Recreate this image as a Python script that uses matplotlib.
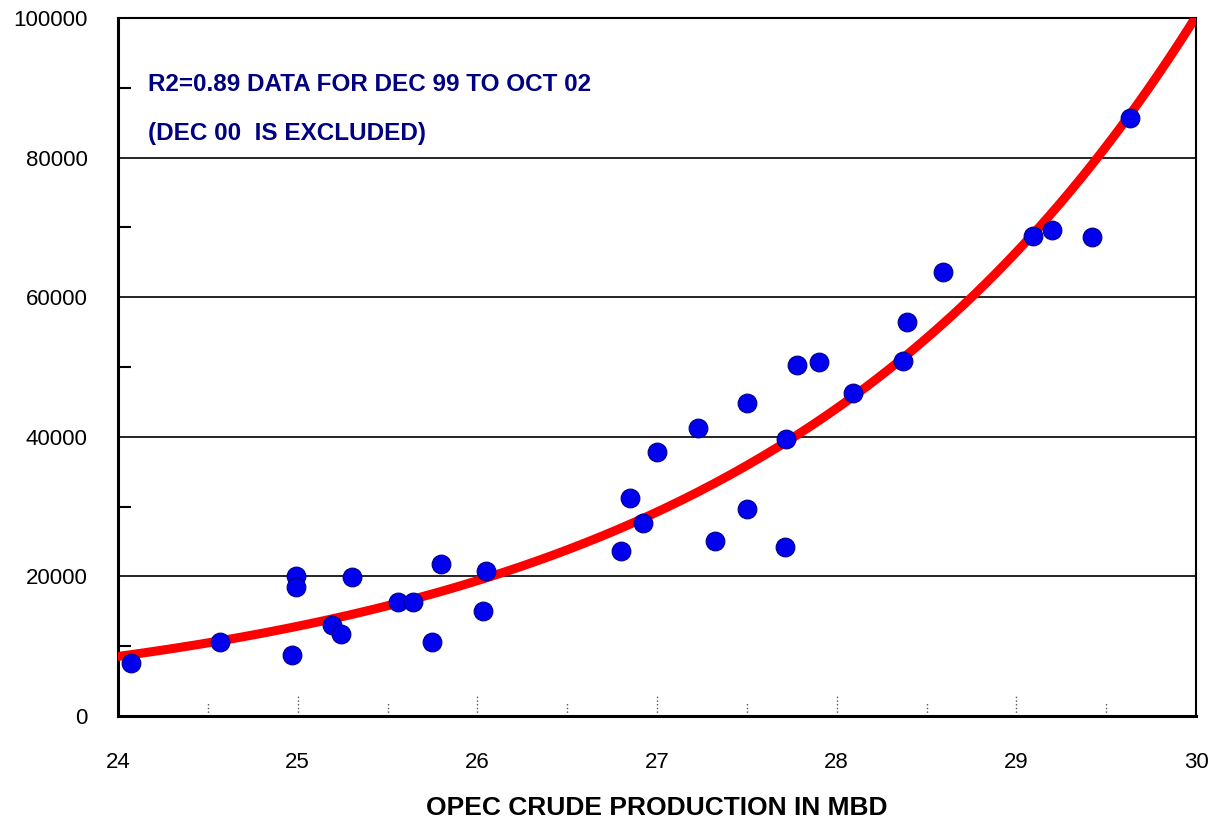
import numpy as np
import matplotlib
matplotlib.use("Agg")
import matplotlib.pyplot as plt
from matplotlib.ticker import MultipleLocator

plt.rcParams['font.family'] = ['Liberation Sans', 'DejaVu Sans']

# OPEC crude production (MBD) vs value
opec_mbd = [24.07, 24.57, 24.97, 24.99, 24.99, 25.19, 25.24, 25.30, 25.56, 25.64,
            25.75, 25.80, 26.03, 26.05, 26.80, 26.85, 26.92, 27.00, 27.23, 27.32,
            27.50, 27.50, 27.71, 27.72, 27.78, 27.90, 28.09, 28.37, 28.39, 28.59,
            29.09, 29.20, 29.42, 29.63]
values = [7600, 10600, 8700, 20100, 18500, 13000, 11800, 19900, 16300, 16300,
          10600, 21800, 15000, 20800, 23600, 31200, 27600, 37800, 41300, 25100,
          29700, 44800, 24200, 39700, 50300, 50700, 46300, 50900, 56500, 63600,
          68800, 69600, 68600, 85700]

x_ticks = [24, 25, 26, 27, 28, 29, 30]
y_ticks = [0, 20000, 40000, 60000, 80000, 100000]
note_lines = ["R2=0.89 DATA FOR DEC 99 TO OCT 02", "(DEC 00  IS EXCLUDED)"]

# exponential trend line fitted to the points (like a spreadsheet trendline)
b, ln_a = np.polyfit(opec_mbd, np.log(values), 1)
xs = np.linspace(24, 30, 200)
trend = np.exp(ln_a + b * xs)

fig = plt.figure(figsize=(12.12, 8.19), dpi=100)
ax = fig.add_axes([0.0974, 0.1258, 0.8894, 0.8522])

ax.plot(xs, trend, color='#ff0000', lw=6.5, solid_capstyle='round', zorder=3)
ax.plot(opec_mbd, values, 'o', ms=13.5, color='#0000ee', mec='#00008b', mew=0.8, zorder=4)

ax.set_xlim(24, 30)
ax.set_ylim(0, 100000)
ax.set_xticks(x_ticks)
ax.set_yticks(y_ticks)
ax.yaxis.set_minor_locator(MultipleLocator(10000))
ax.tick_params(axis='both', which='major', length=0, labelsize=16)
ax.tick_params(axis='x', pad=26)
ax.tick_params(axis='y', pad=22)
ax.tick_params(axis='y', which='minor', direction='in', length=9, width=1.5)

for y in y_ticks[1:-1]:
    ax.axhline(y, color='black', lw=1.2, zorder=1)

# dotted x ticks inside the bottom spine
trans = ax.get_xaxis_transform()
for x in np.arange(24.5, 30, 0.5):
    h = 0.03 if x == int(x) else 0.018
    ax.plot([x, x], [0, h], transform=trans, color='#555555', lw=1, ls=':', zorder=2)

for side in ['left', 'bottom']:
    ax.spines[side].set_linewidth(2.2)
for side in ['top', 'right']:
    ax.spines[side].set_linewidth(1.5)

fig.text(0.5418, 0.0134, 'OPEC CRUDE PRODUCTION IN MBD', fontsize=19,
         fontweight='bold', ha='center', va='center')

ax.text(0.028, 0.905, note_lines[0], transform=ax.transAxes, fontsize=17.5,
        fontweight='bold', color='#000080', va='center')
ax.text(0.028, 0.835, note_lines[1], transform=ax.transAxes, fontsize=17.5,
        fontweight='bold', color='#000080', va='center')

fig.savefig('out.png', dpi=100)
